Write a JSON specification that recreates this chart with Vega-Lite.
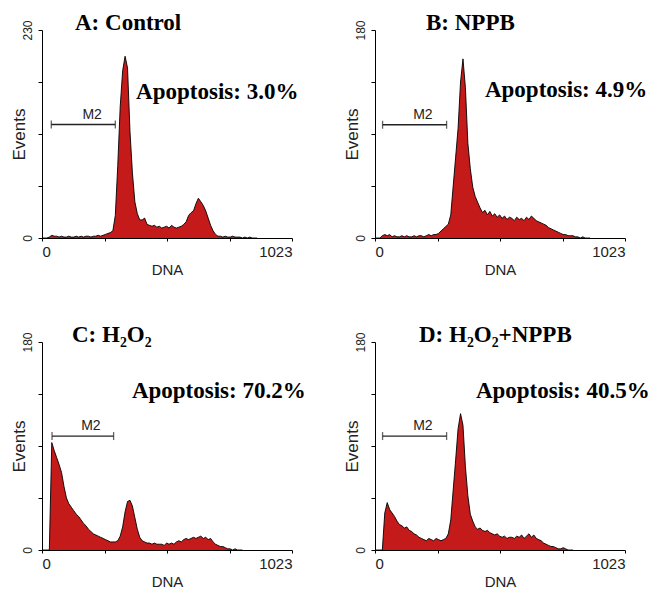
{
  "$schema": "https://vega.github.io/schema/vega-lite/v6.json",
  "padding": {"left": 10, "top": 11, "right": 0, "bottom": 0},
  "background": "white",
  "datasets": {
    "A": [
      {"dna":0,"events":0},{"dna":10,"events":0},{"dna":20,"events":0},{"dna":30,"events":1},{"dna":40,"events":3},{"dna":50,"events":2},{"dna":60,"events":2},{"dna":70,"events":1},{"dna":80,"events":2},{"dna":90,"events":1},
      {"dna":100,"events":1},{"dna":110,"events":2},{"dna":120,"events":1},{"dna":130,"events":1},{"dna":140,"events":2},{"dna":150,"events":1},{"dna":160,"events":2},{"dna":170,"events":1},{"dna":180,"events":2},{"dna":190,"events":2},
      {"dna":200,"events":1},{"dna":210,"events":2},{"dna":220,"events":2},{"dna":230,"events":3},{"dna":240,"events":2},{"dna":250,"events":3},{"dna":260,"events":4},{"dna":270,"events":5},{"dna":280,"events":6},{"dna":290,"events":8},
      {"dna":300,"events":25},{"dna":310,"events":80},{"dna":320,"events":145},{"dna":330,"events":185},{"dna":340,"events":201},{"dna":350,"events":188},{"dna":360,"events":118},{"dna":370,"events":72},{"dna":380,"events":40},{"dna":390,"events":27},
      {"dna":400,"events":20},{"dna":410,"events":20},{"dna":420,"events":22},{"dna":430,"events":15},{"dna":440,"events":14},{"dna":450,"events":13},{"dna":460,"events":14},{"dna":470,"events":12},{"dna":480,"events":13},{"dna":490,"events":11},
      {"dna":500,"events":12},{"dna":510,"events":13},{"dna":520,"events":11},{"dna":530,"events":14},{"dna":540,"events":12},{"dna":550,"events":11},{"dna":560,"events":12},{"dna":570,"events":13},{"dna":580,"events":15},{"dna":590,"events":18},
      {"dna":600,"events":25},{"dna":610,"events":28},{"dna":620,"events":30},{"dna":630,"events":38},{"dna":640,"events":44},{"dna":650,"events":40},{"dna":660,"events":36},{"dna":670,"events":30},{"dna":680,"events":22},{"dna":690,"events":14},
      {"dna":700,"events":8},{"dna":710,"events":4},{"dna":720,"events":2},{"dna":730,"events":2},{"dna":740,"events":1},{"dna":750,"events":2},{"dna":760,"events":1},{"dna":770,"events":1},{"dna":780,"events":2},{"dna":790,"events":1},
      {"dna":800,"events":1},{"dna":810,"events":1},{"dna":820,"events":0},{"dna":830,"events":1},{"dna":840,"events":0},{"dna":850,"events":1},{"dna":860,"events":0},{"dna":870,"events":0},{"dna":880,"events":0}
    ],
    "B": [
      {"dna":0,"events":0},{"dna":10,"events":0},{"dna":20,"events":0},{"dna":30,"events":2},{"dna":40,"events":3},{"dna":50,"events":2},{"dna":60,"events":3},{"dna":70,"events":1},{"dna":80,"events":2},{"dna":90,"events":1},
      {"dna":100,"events":1},{"dna":110,"events":2},{"dna":120,"events":1},{"dna":130,"events":2},{"dna":140,"events":1},{"dna":150,"events":1},{"dna":160,"events":2},{"dna":170,"events":1},{"dna":180,"events":2},{"dna":190,"events":2},
      {"dna":200,"events":1},{"dna":210,"events":2},{"dna":220,"events":3},{"dna":230,"events":2},{"dna":240,"events":3},{"dna":250,"events":3},{"dna":260,"events":4},{"dna":270,"events":6},{"dna":280,"events":8},{"dna":290,"events":10},
      {"dna":300,"events":12},{"dna":310,"events":20},{"dna":320,"events":45},{"dna":330,"events":70},{"dna":340,"events":95},{"dna":350,"events":135},{"dna":360,"events":155},{"dna":370,"events":130},{"dna":380,"events":82},{"dna":390,"events":60},
      {"dna":400,"events":44},{"dna":410,"events":36},{"dna":420,"events":31},{"dna":430,"events":26},{"dna":440,"events":22},{"dna":450,"events":24},{"dna":460,"events":20},{"dna":470,"events":23},{"dna":480,"events":19},{"dna":490,"events":21},
      {"dna":500,"events":18},{"dna":510,"events":20},{"dna":520,"events":17},{"dna":530,"events":19},{"dna":540,"events":16},{"dna":550,"events":18},{"dna":560,"events":17},{"dna":570,"events":15},{"dna":580,"events":18},{"dna":590,"events":16},
      {"dna":600,"events":17},{"dna":610,"events":15},{"dna":620,"events":18},{"dna":630,"events":16},{"dna":640,"events":19},{"dna":650,"events":17},{"dna":660,"events":15},{"dna":670,"events":14},{"dna":680,"events":13},{"dna":690,"events":12},
      {"dna":700,"events":11},{"dna":710,"events":9},{"dna":720,"events":8},{"dna":730,"events":7},{"dna":740,"events":6},{"dna":750,"events":5},{"dna":760,"events":4},{"dna":770,"events":3},{"dna":780,"events":3},{"dna":790,"events":2},
      {"dna":800,"events":2},{"dna":810,"events":2},{"dna":820,"events":1},{"dna":830,"events":1},{"dna":840,"events":0},{"dna":850,"events":1},{"dna":860,"events":0},{"dna":870,"events":0},{"dna":880,"events":0}
    ],
    "C": [
      {"dna":0,"events":0},{"dna":10,"events":0},{"dna":20,"events":0},{"dna":30,"events":0},{"dna":40,"events":93},{"dna":50,"events":86},{"dna":60,"events":80},{"dna":70,"events":74},{"dna":80,"events":67},{"dna":90,"events":55},
      {"dna":100,"events":45},{"dna":110,"events":40},{"dna":120,"events":37},{"dna":130,"events":34},{"dna":140,"events":31},{"dna":150,"events":29},{"dna":160,"events":26},{"dna":170,"events":23},{"dna":180,"events":21},{"dna":190,"events":18},
      {"dna":200,"events":16},{"dna":210,"events":14},{"dna":220,"events":13},{"dna":230,"events":12},{"dna":240,"events":11},{"dna":250,"events":10},{"dna":260,"events":9},{"dna":270,"events":8},{"dna":280,"events":7},{"dna":290,"events":7},
      {"dna":300,"events":7},{"dna":310,"events":8},{"dna":320,"events":12},{"dna":330,"events":20},{"dna":340,"events":33},{"dna":350,"events":42},{"dna":360,"events":43},{"dna":370,"events":38},{"dna":380,"events":28},{"dna":390,"events":18},
      {"dna":400,"events":11},{"dna":410,"events":8},{"dna":420,"events":7},{"dna":430,"events":6},{"dna":440,"events":6},{"dna":450,"events":5},{"dna":460,"events":6},{"dna":470,"events":5},{"dna":480,"events":5},{"dna":490,"events":5},
      {"dna":500,"events":4},{"dna":510,"events":6},{"dna":520,"events":5},{"dna":530,"events":6},{"dna":540,"events":5},{"dna":550,"events":7},{"dna":560,"events":8},{"dna":570,"events":7},{"dna":580,"events":9},{"dna":590,"events":10},
      {"dna":600,"events":9},{"dna":610,"events":10},{"dna":620,"events":11},{"dna":630,"events":10},{"dna":640,"events":11},{"dna":650,"events":12},{"dna":660,"events":10},{"dna":670,"events":11},{"dna":680,"events":9},{"dna":690,"events":10},
      {"dna":700,"events":7},{"dna":710,"events":5},{"dna":720,"events":4},{"dna":730,"events":3},{"dna":740,"events":3},{"dna":750,"events":2},{"dna":760,"events":1},{"dna":770,"events":1},{"dna":780,"events":0},{"dna":790,"events":1},
      {"dna":800,"events":0},{"dna":810,"events":0},{"dna":820,"events":0}
    ],
    "D": [
      {"dna":0,"events":0},{"dna":10,"events":0},{"dna":20,"events":0},{"dna":30,"events":0},{"dna":40,"events":32},{"dna":50,"events":41},{"dna":60,"events":35},{"dna":70,"events":32},{"dna":80,"events":29},{"dna":90,"events":25},
      {"dna":100,"events":22},{"dna":110,"events":21},{"dna":120,"events":19},{"dna":130,"events":20},{"dna":140,"events":17},{"dna":150,"events":16},{"dna":160,"events":14},{"dna":170,"events":13},{"dna":180,"events":11},{"dna":190,"events":10},
      {"dna":200,"events":9},{"dna":210,"events":8},{"dna":220,"events":10},{"dna":230,"events":9},{"dna":240,"events":8},{"dna":250,"events":10},{"dna":260,"events":9},{"dna":270,"events":8},{"dna":280,"events":9},{"dna":290,"events":10},
      {"dna":300,"events":14},{"dna":310,"events":26},{"dna":320,"events":52},{"dna":330,"events":78},{"dna":340,"events":105},{"dna":350,"events":118},{"dna":360,"events":108},{"dna":370,"events":72},{"dna":380,"events":47},{"dna":390,"events":31},
      {"dna":400,"events":25},{"dna":410,"events":20},{"dna":420,"events":18},{"dna":430,"events":19},{"dna":440,"events":17},{"dna":450,"events":16},{"dna":460,"events":17},{"dna":470,"events":15},{"dna":480,"events":14},{"dna":490,"events":13},
      {"dna":500,"events":14},{"dna":510,"events":12},{"dna":520,"events":11},{"dna":530,"events":12},{"dna":540,"events":10},{"dna":550,"events":11},{"dna":560,"events":11},{"dna":570,"events":10},{"dna":580,"events":12},{"dna":590,"events":11},
      {"dna":600,"events":13},{"dna":610,"events":10},{"dna":620,"events":12},{"dna":630,"events":14},{"dna":640,"events":11},{"dna":650,"events":13},{"dna":660,"events":10},{"dna":670,"events":9},{"dna":680,"events":8},{"dna":690,"events":6},
      {"dna":700,"events":5},{"dna":710,"events":4},{"dna":720,"events":3},{"dna":730,"events":3},{"dna":740,"events":2},{"dna":750,"events":1},{"dna":760,"events":1},{"dna":770,"events":2},{"dna":780,"events":1},{"dna":790,"events":0},
      {"dna":800,"events":0},{"dna":810,"events":0}
    ]
  },
  "columns": 2,
  "spacing": {"row": 104, "column": 83},
  "bounds": "flush",
  "concat": [
    {
      "width": 250, "height": 208,
      "title": {"text": "A: Control", "dx": 33},
      "layer": [
        {"data": {"name": "A"}, "mark": {"type": "area", "color": "#C41A1A", "opacity": 1, "fillOpacity": 1, "line": {"color": "#000", "strokeWidth": 0.9}},
         "encoding": {
           "x": {"field": "dna", "type": "quantitative", "scale": {"domain": [0, 1023], "nice": false}, "axis": {"title": "DNA", "format": "d", "values": [0,32,64,96,128,160,192,224,256,288,320,352,384,416,448,480,512,544,576,608,640,672,704,736,768,800,832,864,896,928,960,992,1023], "labelExpr": "datum.value == 0 || datum.value == 1023 ? datum.label : ''"}},
           "y": {"field": "events", "type": "quantitative", "scale": {"domain": [0, 230], "nice": false}, "axis": {"title": "Events", "format": "d", "values": [0, 57.5, 115, 172.5, 230], "labelExpr": "datum.value == 0 || datum.value == 230 ? datum.label : ''"}}
         }},
        {"data": {"values": [{}]}, "mark": {"type": "rule", "color": "#222", "strokeWidth": 1.3}, "encoding": {"x": {"datum": 38}, "x2": {"datum": 300}, "y": {"datum": 125.5}}},
        {"data": {"values": [{"gate": 38}, {"gate": 300}]}, "mark": {"type": "tick", "orient": "vertical", "size": 8, "thickness": 1.3, "color": "#222"}, "encoding": {"x": {"field": "gate", "type": "quantitative"}, "y": {"datum": 125.5}}},
        {"data": {"values": [{}]}, "mark": {"type": "text", "text": "M2", "font": "Liberation Sans", "fontSize": 14, "baseline": "bottom", "dy": -3, "color": "#222"}, "encoding": {"x": {"datum": 205}, "y": {"datum": 125.5}}},
        {"data": {"values": [{}]}, "mark": {"type": "text", "text": "Apoptosis: 3.0%", "font": "Liberation Serif", "fontSize": 23, "fontWeight": "bold", "align": "left", "baseline": "alphabetic", "color": "#000"}, "encoding": {"x": {"datum": 385}, "y": {"datum": 154}}}
      ]
    },
    {
      "width": 250, "height": 208,
      "title": {"text": "B: NPPB", "dx": 51},
      "layer": [
        {"data": {"name": "B"}, "mark": {"type": "area", "color": "#C41A1A", "opacity": 1, "fillOpacity": 1, "line": {"color": "#000", "strokeWidth": 0.9}},
         "encoding": {
           "x": {"field": "dna", "type": "quantitative", "scale": {"domain": [0, 1023], "nice": false}, "axis": {"title": "DNA", "format": "d", "values": [0,32,64,96,128,160,192,224,256,288,320,352,384,416,448,480,512,544,576,608,640,672,704,736,768,800,832,864,896,928,960,992,1023], "labelExpr": "datum.value == 0 || datum.value == 1023 ? datum.label : ''"}},
           "y": {"field": "events", "type": "quantitative", "scale": {"domain": [0, 180], "nice": false}, "axis": {"title": "Events", "format": "d", "values": [0, 45, 90, 135, 180], "labelExpr": "datum.value == 0 || datum.value == 180 ? datum.label : ''"}}
         }},
        {"data": {"values": [{}]}, "mark": {"type": "rule", "color": "#222", "strokeWidth": 1.3}, "encoding": {"x": {"datum": 31}, "x2": {"datum": 293}, "y": {"datum": 98}}},
        {"data": {"values": [{"gate": 31}, {"gate": 293}]}, "mark": {"type": "tick", "orient": "vertical", "size": 8, "thickness": 1.3, "color": "#222"}, "encoding": {"x": {"field": "gate", "type": "quantitative"}, "y": {"datum": 98}}},
        {"data": {"values": [{}]}, "mark": {"type": "text", "text": "M2", "font": "Liberation Sans", "fontSize": 14, "baseline": "bottom", "dy": -3, "color": "#222"}, "encoding": {"x": {"datum": 196}, "y": {"datum": 98}}},
        {"data": {"values": [{}]}, "mark": {"type": "text", "text": "Apoptosis: 4.9%", "font": "Liberation Serif", "fontSize": 23, "fontWeight": "bold", "align": "left", "baseline": "alphabetic", "color": "#000"}, "encoding": {"x": {"datum": 450}, "y": {"datum": 122}}}
      ]
    },
    {
      "width": 250, "height": 208,
      "title": {"text": "C: H₂O₂", "dx": 30},
      "layer": [
        {"data": {"name": "C"}, "mark": {"type": "area", "color": "#C41A1A", "opacity": 1, "fillOpacity": 1, "line": {"color": "#000", "strokeWidth": 0.9}},
         "encoding": {
           "x": {"field": "dna", "type": "quantitative", "scale": {"domain": [0, 1023], "nice": false}, "axis": {"title": "DNA", "format": "d", "values": [0,32,64,96,128,160,192,224,256,288,320,352,384,416,448,480,512,544,576,608,640,672,704,736,768,800,832,864,896,928,960,992,1023], "labelExpr": "datum.value == 0 || datum.value == 1023 ? datum.label : ''"}},
           "y": {"field": "events", "type": "quantitative", "scale": {"domain": [0, 180], "nice": false}, "axis": {"title": "Events", "format": "d", "values": [0, 45, 90, 135, 180], "labelExpr": "datum.value == 0 || datum.value == 180 ? datum.label : ''"}}
         }},
        {"data": {"values": [{}]}, "mark": {"type": "rule", "color": "#222", "strokeWidth": 1.3}, "encoding": {"x": {"datum": 41}, "x2": {"datum": 293}, "y": {"datum": 98.6}}},
        {"data": {"values": [{"gate": 41}, {"gate": 293}]}, "mark": {"type": "tick", "orient": "vertical", "size": 8, "thickness": 1.3, "color": "#222"}, "encoding": {"x": {"field": "gate", "type": "quantitative"}, "y": {"datum": 98.6}}},
        {"data": {"values": [{}]}, "mark": {"type": "text", "text": "M2", "font": "Liberation Sans", "fontSize": 14, "baseline": "bottom", "dy": -3, "color": "#222"}, "encoding": {"x": {"datum": 200}, "y": {"datum": 98.6}}},
        {"data": {"values": [{}]}, "mark": {"type": "text", "text": "Apoptosis: 70.2%", "font": "Liberation Serif", "fontSize": 23, "fontWeight": "bold", "align": "left", "baseline": "alphabetic", "color": "#000"}, "encoding": {"x": {"datum": 368}, "y": {"datum": 131.5}}}
      ]
    },
    {
      "width": 250, "height": 208,
      "title": {"text": "D: H₂O₂+NPPB", "dx": 44},
      "layer": [
        {"data": {"name": "D"}, "mark": {"type": "area", "color": "#C41A1A", "opacity": 1, "fillOpacity": 1, "line": {"color": "#000", "strokeWidth": 0.9}},
         "encoding": {
           "x": {"field": "dna", "type": "quantitative", "scale": {"domain": [0, 1023], "nice": false}, "axis": {"title": "DNA", "format": "d", "values": [0,32,64,96,128,160,192,224,256,288,320,352,384,416,448,480,512,544,576,608,640,672,704,736,768,800,832,864,896,928,960,992,1023], "labelExpr": "datum.value == 0 || datum.value == 1023 ? datum.label : ''"}},
           "y": {"field": "events", "type": "quantitative", "scale": {"domain": [0, 180], "nice": false}, "axis": {"title": "Events", "format": "d", "values": [0, 45, 90, 135, 180], "labelExpr": "datum.value == 0 || datum.value == 180 ? datum.label : ''"}}
         }},
        {"data": {"values": [{}]}, "mark": {"type": "rule", "color": "#222", "strokeWidth": 1.3}, "encoding": {"x": {"datum": 31}, "x2": {"datum": 293}, "y": {"datum": 98.6}}},
        {"data": {"values": [{"gate": 31}, {"gate": 293}]}, "mark": {"type": "tick", "orient": "vertical", "size": 8, "thickness": 1.3, "color": "#222"}, "encoding": {"x": {"field": "gate", "type": "quantitative"}, "y": {"datum": 98.6}}},
        {"data": {"values": [{}]}, "mark": {"type": "text", "text": "M2", "font": "Liberation Sans", "fontSize": 14, "baseline": "bottom", "dy": -3, "color": "#222"}, "encoding": {"x": {"datum": 196}, "y": {"datum": 98.6}}},
        {"data": {"values": [{}]}, "mark": {"type": "text", "text": "Apoptosis: 40.5%", "font": "Liberation Serif", "fontSize": 23, "fontWeight": "bold", "align": "left", "baseline": "alphabetic", "color": "#000"}, "encoding": {"x": {"datum": 413}, "y": {"datum": 131.5}}}
      ]
    }
  ],
  "config": {
    "view": {"stroke": null},
    "axis": {"grid": false, "domainColor": "#000", "domainWidth": 1, "tickColor": "#000", "tickWidth": 1, "labelFont": "Liberation Sans", "labelColor": "#222", "labelOverlap": false, "titleFont": "Liberation Sans", "titleFontWeight": "normal", "titleColor": "#222"},
    "axisX": {"tickSize": 3, "labelFontSize": 15, "labelPadding": 3, "titleFontSize": 15, "titlePadding": 3, "labelFlush": true},
    "axisY": {"tickSize": 4, "labelFontSize": 12, "labelAngle": -90, "labelAlign": "center", "labelBaseline": "bottom", "labelPadding": 4, "titleFontSize": 17, "titleX": -14},
    "title": {"font": "Liberation Serif", "fontSize": 23, "fontWeight": "bold", "anchor": "start", "frame": "group", "baseline": "alphabetic", "offset": 0, "dy": 19, "color": "#000"}
  }
}
